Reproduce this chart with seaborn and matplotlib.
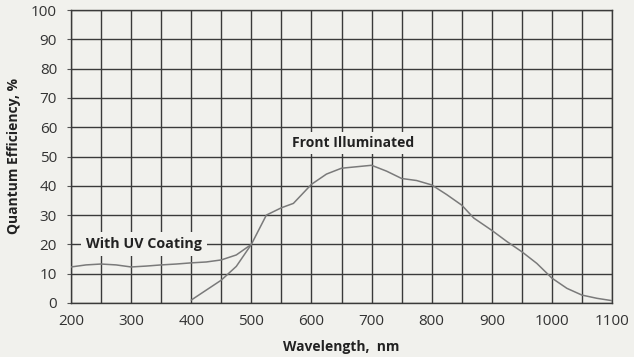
import matplotlib
matplotlib.use("Agg")
import matplotlib.pyplot as plt
import seaborn as sns
import pandas as pd

# Data
front_wl = [400, 450, 475, 500, 525, 550, 570, 600, 625, 650, 675, 700, 725, 750, 775, 800, 825, 850, 870, 900, 925, 950, 975, 1000, 1025, 1050, 1075, 1100]
front_qe = [1.0, 7.8, 12.5, 20.0, 30.0, 32.5, 34.0, 40.5, 44.0, 46.0, 46.5, 47.0, 45.0, 42.5, 41.8, 40.3, 37.0, 33.4, 29.0, 24.8, 21.0, 17.5, 13.5, 8.5, 5.0, 2.7, 1.6, 0.8]
uv_wl = [200, 225, 250, 275, 300, 325, 350, 375, 400, 425, 450, 475, 500]
uv_qe = [12.3, 13.0, 13.3, 13.0, 12.3, 12.6, 13.0, 13.3, 13.7, 14.0, 14.7, 16.4, 20.0]

x_ticks = [200, 300, 400, 500, 600, 700, 800, 900, 1000, 1100]
y_ticks = [0, 10, 20, 30, 40, 50, 60, 70, 80, 90, 100]

sns.set_theme(style="white")
plt.rcParams['font.family'] = ['Open Sans', 'DejaVu Sans']

bg = "#f1f1ed"
fig = plt.figure(figsize=(6.34, 3.57), dpi=100, facecolor=bg)
ax = fig.add_axes([71/634, 1-303/357, (612-71)/634, (303-10)/357])
ax.set_facecolor(bg)

df_front = pd.DataFrame({"wl": front_wl, "qe": front_qe})
df_uv = pd.DataFrame({"wl": uv_wl, "qe": uv_qe})
sns.lineplot(data=df_front, x="wl", y="qe", ax=ax, color="#7a7a7a", lw=1.1, zorder=3)
sns.lineplot(data=df_uv, x="wl", y="qe", ax=ax, color="#7a7a7a", lw=1.1, zorder=3)

ax.set_xlim(200, 1100)
ax.set_ylim(0, 100)
ax.set_xticks(x_ticks)
ax.set_yticks(y_ticks)
ax.set_xticks(list(range(250, 1100, 100)), minor=True)
ax.grid(True, which="both", color="#3a3a3a", lw=1.0)
ax.set_axisbelow(True)
for s in ax.spines.values():
    s.set_color("#3a3a3a")
    s.set_linewidth(1.0)
ax.tick_params(axis="y", which="major", left=True, length=3, width=0.8, color="#555555",
               labelsize=11, labelcolor="#333333", pad=7)
ax.tick_params(axis="x", which="both", length=0, labelsize=11, labelcolor="#333333", pad=8)

ax.set_xlabel("Wavelength,  nm", fontsize=10, fontweight="bold", color="#222222", labelpad=8)
ax.set_ylabel("Quantum Efficiency, %", fontsize=10, fontweight="bold", color="#222222", labelpad=7)

ax.text(321, 20, "With UV Coating", fontsize=10.3, fontweight="bold", color="#222222",
        ha="center", va="center", zorder=4,
        bbox=dict(boxstyle="square,pad=0.35", fc=bg, ec="none"))
ax.text(669, 54.6, "Front Illuminated", fontsize=10, fontweight="bold", color="#222222",
        ha="center", va="center", zorder=4,
        bbox=dict(boxstyle="square,pad=0.3", fc=bg, ec="none"))

fig.savefig("out.png", dpi=100, facecolor=bg)
